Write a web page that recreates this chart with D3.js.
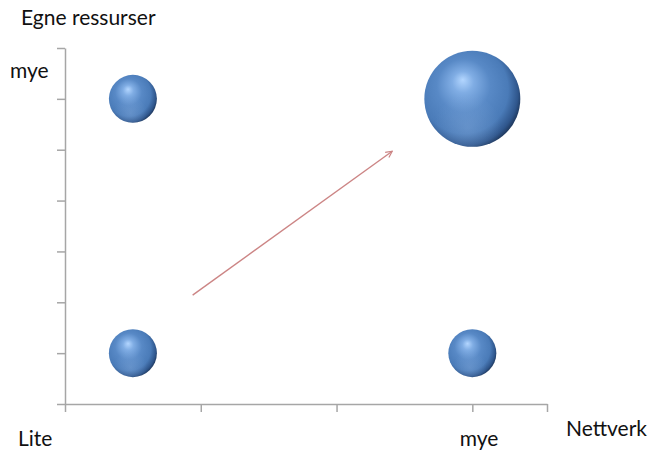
<!DOCTYPE html>
<html>
<head>
<meta charset="utf-8">
<script src="https://cdn.jsdelivr.net/npm/d3@7"></script>
<style>
  html, body { margin: 0; padding: 0; background: #fff; }
  svg { display: block; }
  text { font-family: Lato, "Open Sans", sans-serif; fill: #111; }
</style>
</head>
<body>
<script>
// Bubble positions (Nettverk, Egne ressurser) and bubble sizes
const nettverk = [0.5, 0.5, 3, 3];
const ressurser = [6, 1, 1, 6];
const sizes = [1, 1, 1, 4];

// Tick positions on each axis
const xTicks = [0, 1, 2, 3, 3.55];
const yTicks = [0, 1, 2, 3, 4, 5, 6, 7];

// Axis end labels and titles
const xEndLabels = ["Lite", "mye"];
const xEndLabelAt = [-0.22, 3.05];
const yEndLabel = "mye";
const xTitle = "Nettverk";
const yTitle = "Egne ressurser";

// Trend arrow, from/to in data units
const arrowX = [0.94, 2.41];
const arrowY = [2.14, 4.97];

const W = 652, H = 452;
const svg = d3.select("body").append("svg").attr("width", W).attr("height", H);

const x = d3.scaleLinear().domain([0, 3.55]).range([65, 547]);
const y = d3.scaleLinear().domain([0, 7]).range([404, 48]);
const r = d3.scaleSqrt().domain([0, 4]).range([0, 48]);

const defs = svg.append("defs");
const g1 = defs.append("radialGradient").attr("id", "sphere")
  .attr("cx", "0.42").attr("cy", "0.44").attr("r", "0.62")
  .attr("fx", "0.4").attr("fy", "0.3");
[[0, "#b3d6ff"], [0.18, "#80ade4"], [0.45, "#5889c6"], [0.74, "#4a7bb8"], [0.9, "#2f568c"], [1, "#182c4a"]]
  .forEach(([o, c]) => g1.append("stop").attr("offset", o).attr("stop-color", c));

// Soft reflected light near the lower rim
const g2 = defs.append("radialGradient").attr("id", "rim")
  .attr("cx", "0.45").attr("cy", "0.8").attr("r", "0.35");
g2.append("stop").attr("offset", 0).attr("stop-color", "#8fb4e3").attr("stop-opacity", 0.35);
g2.append("stop").attr("offset", 1).attr("stop-color", "#8fb4e3").attr("stop-opacity", 0);

const axisColor = "#a6a6a6";

const gx = svg.append("g").attr("transform", `translate(0,${y(0)})`)
  .call(d3.axisBottom(x).tickValues(xTicks).tickSize(8).tickSizeOuter(0).tickFormat(""));
const gy = svg.append("g").attr("transform", `translate(${x(0)},0)`)
  .call(d3.axisLeft(y).tickValues(yTicks).tickSize(8).tickSizeOuter(0).tickFormat(""));
[gx, gy].forEach(g => {
  g.select(".domain").attr("stroke", axisColor).attr("stroke-width", 1.5);
  g.selectAll(".tick line").attr("stroke", axisColor).attr("stroke-width", 1.5);
});

// Bubbles
const data = nettverk.map((v, i) => ({ x: v, y: ressurser[i], s: sizes[i] }));
const bubbles = svg.append("g").selectAll("g").data(data).join("g");
bubbles.append("circle")
  .attr("cx", d => x(d.x)).attr("cy", d => y(d.y)).attr("r", d => r(d.s))
  .attr("fill", "url(#sphere)");
bubbles.append("circle")
  .attr("cx", d => x(d.x)).attr("cy", d => y(d.y)).attr("r", d => r(d.s))
  .attr("fill", "url(#rim)");

// Arrow
const arrowColor = "#cc8585";
defs.append("marker").attr("id", "head")
  .attr("viewBox", "0 0 10 10").attr("refX", 9).attr("refY", 5)
  .attr("markerWidth", 8).attr("markerHeight", 8).attr("markerUnits", "userSpaceOnUse")
  .attr("orient", "auto")
  .append("path").attr("d", "M1,1 L9,5 L1,9")
  .attr("fill", "none").attr("stroke", arrowColor).attr("stroke-width", 1.5);
svg.append("line")
  .attr("x1", x(arrowX[0])).attr("y1", y(arrowY[0]))
  .attr("x2", x(arrowX[1])).attr("y2", y(arrowY[1]))
  .attr("stroke", arrowColor).attr("stroke-width", 1.4)
  .attr("marker-end", "url(#head)");

// Labels
const fs = 21;
svg.append("text").attr("x", 21).attr("y", 25).attr("font-size", fs).text(yTitle);
svg.append("text").attr("x", 10).attr("y", 78).attr("font-size", fs).text(yEndLabel);
svg.selectAll(".xend").data(xEndLabels).join("text")
  .attr("x", (d, i) => x(xEndLabelAt[i])).attr("y", 446)
  .attr("text-anchor", "middle").attr("font-size", fs).text(d => d);
svg.append("text").attr("x", 566).attr("y", 436).attr("font-size", fs).text(xTitle);
</script>
</body>
</html>
